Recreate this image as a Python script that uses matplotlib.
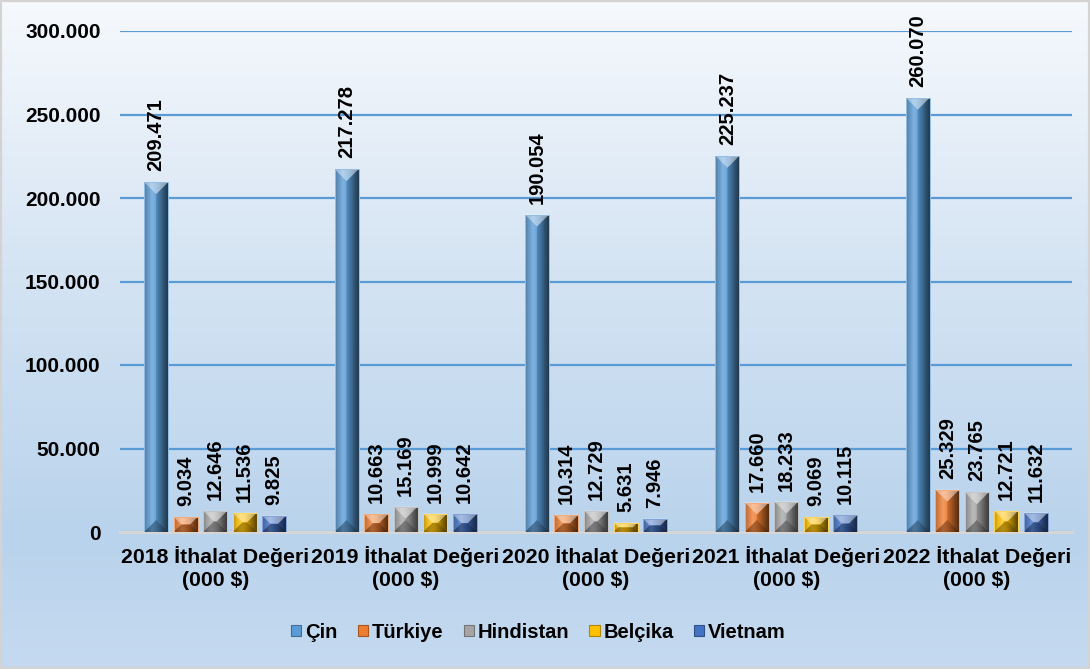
import numpy as np
import matplotlib
matplotlib.use("Agg")
import matplotlib.pyplot as plt
from matplotlib.patches import Polygon, Rectangle
from matplotlib.colors import to_rgb, LinearSegmentedColormap
from matplotlib.ticker import FuncFormatter

plt.rcParams['font.family'] = ['Liberation Sans', 'DejaVu Sans']
plt.rcParams['font.weight'] = 'bold'

# --- data (thousand USD) ---
categories = ["2018 İthalat Değeri\n(000 $)", "2019 İthalat Değeri\n(000 $)",
              "2020 İthalat Değeri\n(000 $)", "2021 İthalat Değeri\n(000 $)",
              "2022 İthalat Değeri\n(000 $)"]
countries = ["Çin", "Türkiye", "Hindistan", "Belçika", "Vietnam"]
cin = [209471, 217278, 190054, 225237, 260070]
turkiye = [9034, 10663, 10314, 17660, 25329]
hindistan = [12646, 15169, 12729, 18233, 23765]
belcika = [11536, 10999, 5631, 9069, 12721]
vietnam = [9825, 10642, 7946, 10115, 11632]
series = [cin, turkiye, hindistan, belcika, vietnam]
colors = ["#5B9BD5", "#ED7D31", "#A5A5A5", "#FFC000", "#4472C4"]
yticks = [0, 50000, 100000, 150000, 200000, 250000, 300000]


def tr_fmt(v, _pos=None):
    return f"{int(round(v)):,}".replace(",", ".")


W, H = 1090, 669
fig = plt.figure(figsize=(W / 100, H / 100), dpi=100)

# background gradient over the whole figure
bg = fig.add_axes([0, 0, 1, 1], zorder=-10)
bg.set_axis_off()
grad_cmap = LinearSegmentedColormap.from_list(
    "bg", [(0.0, "#C5DAF0"), (0.2, "#B9D3EC"), (0.6, "#D5E4F3"), (1.0, "#F6F9FD")])
g = np.linspace(0, 1, 256).reshape(-1, 1)
bg.imshow(g, aspect="auto", cmap=grad_cmap, origin="lower", extent=[0, 1, 0, 1])
bg.set_xlim(0, 1)
bg.set_ylim(0, 1)
bg.add_patch(Rectangle((0.001, 0.001), 0.998, 0.997, transform=bg.transAxes,
                       fill=False, edgecolor="#D3D3D3", lw=1.6))

left_px, right_px, top_px, bot_px = 120, 1072, 31, 532
ax = fig.add_axes([left_px / W, 1 - bot_px / H, (right_px - left_px) / W,
                   (bot_px - top_px) / H])
ax.patch.set_alpha(0)
ax.set_xlim(-0.5, len(categories) - 0.5)
ax.set_ylim(0, 300000)
for s in ax.spines.values():
    s.set_visible(False)
ax.set_yticks(yticks)
ax.yaxis.set_major_formatter(FuncFormatter(tr_fmt))
ax.tick_params(axis="y", length=0, pad=14, labelsize=15)
ax.tick_params(axis="x", length=0, pad=10, labelsize=15.3)
ax.set_xticks(range(len(categories)))
ax.set_xticklabels(categories, linespacing=1.25)
for t in ax.get_yticklabels() + ax.get_xticklabels():
    t.set_fontweight("bold")
ax.grid(axis="y", color="#5B9BD5", lw=1.6, zorder=0)
ax.set_axisbelow(True)
ax.axhline(0, color="#D6D6D6", lw=2.2, zorder=1, clip_on=False)

x = np.arange(len(categories))
step = 0.155
width = 0.126
px_per_x = (right_px - left_px) / (ax.get_xlim()[1] - ax.get_xlim()[0])
px_per_y = (bot_px - top_px) / 300000


def shade(c, f):
    c = np.array(to_rgb(c))
    if f >= 1:
        return tuple(c + (1 - c) * (f - 1))
    return tuple(c * f)


def bevel_bar(patch, color):
    x0, y0 = patch.get_x(), patch.get_y()
    w, h = patch.get_width(), patch.get_height()
    x1, y1 = x0 + w, y0 + h
    # horizontal cylinder-like shading clipped to the bar
    factors = [0.72, 0.92, 1.15, 1.0, 0.82, 0.6, 0.42]
    cols = np.array([shade(color, f) for f in factors])
    cmap = LinearSegmentedColormap.from_list("b", cols)
    im = ax.imshow(np.linspace(0, 1, 64).reshape(1, -1), cmap=cmap, aspect="auto",
                   extent=[x0, x1, y0, y1], zorder=3, interpolation="bilinear")
    im.set_clip_path(patch)
    # pyramid bevel faces
    wpx, hpx = w * px_per_x, h * px_per_y
    ipx = min(wpx, hpx) / 2
    ix, iy = ipx / px_per_x, ipx / px_per_y
    faces = [
        ([(x0, y1), (x1, y1), (x1 - ix, y1 - iy), (x0 + ix, y1 - iy)], "white", 0.45),
        ([(x0, y0), (x1, y0), (x1 - ix, y0 + iy), (x0 + ix, y0 + iy)], "black", 0.3),
        ([(x0, y0), (x0, y1), (x0 + ix, y1 - iy), (x0 + ix, y0 + iy)], "white", 0.1),
        ([(x1, y0), (x1, y1), (x1 - ix, y1 - iy), (x1 - ix, y0 + iy)], "black", 0.12),
    ]
    for pts, fc, a in faces:
        ax.add_patch(Polygon(pts, closed=True, facecolor=fc, alpha=a, lw=0, zorder=4))
    ax.add_patch(Rectangle((x0, y0), w, h, fill=False, edgecolor=shade(color, 1.35),
                           lw=0.7, zorder=5))


for i, (vals, col, name) in enumerate(zip(series, colors, countries)):
    offs = (i - 2) * step
    bars = ax.bar(x + offs, vals, width, color=col, label=name, zorder=2, lw=0)
    for b, v in zip(bars, vals):
        bevel_bar(b, col)
        ax.annotate(tr_fmt(v), (b.get_x() + b.get_width() / 2, v),
                    xytext=(0, 11), textcoords="offset pixels", rotation=90,
                    ha="center", va="bottom", fontsize=14.5, fontweight="bold",
                    color="black", zorder=6)

handles = [Rectangle((0, 0), 1, 1, facecolor=c, edgecolor=shade(c, 0.7), lw=0.8)
           for c in colors]
leg = fig.legend(handles, countries, loc="center", bbox_to_anchor=(0.494, 0.055),
                 ncol=5, frameon=False, handlelength=0.5, handleheight=0.5,
                 handletextpad=0.2, columnspacing=1.0,
                 prop={"size": 14.5, "weight": "bold"})

fig.savefig("out.png", dpi=100)
